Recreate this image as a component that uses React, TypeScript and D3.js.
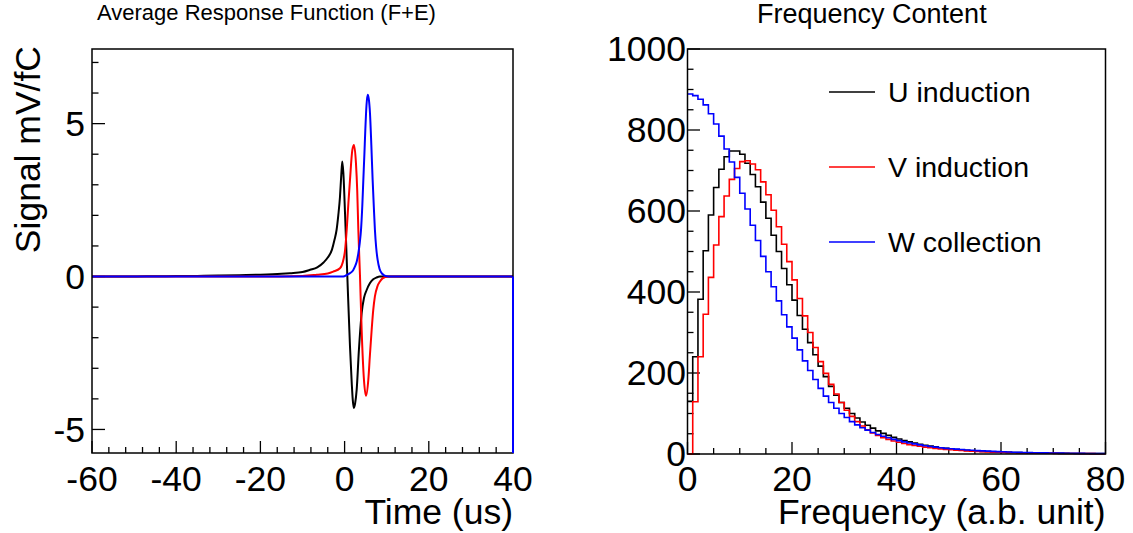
import React from 'react';
import * as d3 from 'd3';

// Left pad: average response (time in us, signal in mV/fC)
const uTime = [-60, -50, -45, -40, -35, -30, -25, -20, -15, -13, -10, -8.2, -6.5, -5, -4, -3, -2.4, -1.9, -1.5, -1.1, -0.8, -0.55, -0.3, 0.1, 0.65, 1.28, 1.7, 1.95, 2.2, 2.5, 2.87, 3.4, 4.05, 4.6, 5.24, 6.0, 6.8, 7.6, 8.4, 10, 40];
const uSignal = [0, 0, 0.01, 0.015, 0.02, 0.03, 0.045, 0.06, 0.09, 0.11, 0.15, 0.22, 0.3, 0.46, 0.62, 0.88, 1.2, 1.53, 2.0, 2.6, 3.3, 3.76, 3.4, 2.07, 0, -2.29, -3.5, -4.05, -4.3, -4.15, -3.7, -2.4, -1.2, -0.7, -0.44, -0.22, -0.09, -0.03, 0, 0, 0];

const vTime = [-60, -20, -10, -6.6, -4, -2.7, -1.1, -0.3, 0.1, 0.5, 0.9, 1.28, 1.84, 2.23, 2.7, 3.0, 3.26, 3.66, 4.05, 4.6, 5.08, 5.63, 6.0, 6.43, 6.8, 7.2, 7.8, 8.4, 9.0, 9.6, 10.5, 40];
const vSignal = [0, 0, 0.02, 0.06, 0.1, 0.16, 0.27, 0.54, 0.85, 1.53, 2.4, 3.16, 4.14, 4.3, 3.7, 2.8, 1.53, 0, -1.74, -3.38, -3.9, -3.38, -2.6, -1.74, -1.1, -0.65, -0.32, -0.16, -0.06, -0.02, 0, 0];

const wTime = [-60, -0.3, 0.5, 1.28, 2.0, 2.47, 2.9, 3.26, 3.6, 3.9, 4.2, 4.45, 4.7, 4.92, 5.2, 5.48, 5.75, 6.03, 6.35, 6.66, 6.95, 7.2, 7.5, 7.84, 8.3, 8.8, 9.4, 10, 11, 40];
const wSignal = [0, 0, 0.05, 0.11, 0.2, 0.33, 0.5, 0.76, 1.1, 1.53, 2.3, 3.16, 4.0, 4.79, 5.6, 5.94, 5.8, 5.34, 4.3, 3.16, 2.25, 1.53, 0.95, 0.55, 0.25, 0.11, 0.04, 0.01, 0, 0];
const wEndValue = -6;

// Right pad: frequency content, 80 bins from 0 to 80
const freqU = [130, 240, 382, 502, 590, 658, 703, 734, 748, 748, 740, 718, 690, 660, 622, 582, 540, 500, 458, 418, 380, 342, 308, 275, 245, 217, 191, 167, 145, 127, 113, 100, 89, 79, 71, 64, 57, 51, 46, 41, 37, 33, 30, 27, 24, 21.5, 19.5, 17.5, 15.5, 14, 12.5, 11.2, 10, 9, 8.1, 7.3, 6.6, 6, 5.4, 4.9, 4.4, 4, 3.6, 3.3, 3, 2.7, 2.5, 2.3, 2.1, 1.9, 1.8, 1.6, 1.5, 1.4, 1.3, 1.2, 1.1, 1.0, 1.0, 0.9];
const freqV = [0, 129, 240, 345, 436, 516, 586, 637, 678, 705, 722, 724, 716, 702, 672, 640, 602, 561, 518, 475, 430, 384, 341, 300, 263, 228, 199, 172, 148, 127, 108, 93, 80, 69, 60, 52, 46, 40, 36, 32, 29, 26, 23, 21, 19, 17, 15.5, 14, 12.5, 11.5, 10.5, 9.5, 8.6, 7.8, 7, 6.3, 5.7, 5.2, 4.7, 4.3, 3.9, 3.5, 3.2, 2.9, 2.6, 2.4, 2.2, 2, 1.8, 1.7, 1.5, 1.4, 1.3, 1.2, 1.1, 1.0, 0.9, 0.9, 0.8, 0.8];
const freqW = [889, 885, 876, 862, 840, 815, 785, 753, 721, 683, 644, 605, 565, 527, 488, 450, 413, 378, 344, 314, 286, 257, 230, 206, 184, 162, 143, 127, 113, 100, 90, 80, 72, 65, 59, 53, 48, 44, 40, 36, 33, 30, 27, 25, 22.5, 20.5, 18.5, 17, 15.5, 14, 13, 12, 11, 10, 9.2, 8.4, 7.7, 7, 6.4, 5.9, 5.4, 4.9, 4.5, 4.1, 3.8, 3.5, 3.2, 2.9, 2.7, 2.5, 2.3, 2.1, 1.9, 1.8, 1.6, 1.5, 1.4, 1.3, 1.2, 1.1];

const legendNames = ['U induction', 'V induction', 'W collection'];
const colors = ['#000000', '#ff0000', '#0000ff'];

const timeTicks = [-60, -40, -20, 0, 20, 40];
const signalTicks = [-5, 0, 5];
const freqTicks = [0, 20, 40, 60, 80];
const countTicks = [0, 200, 400, 600, 800, 1000];

const FONT = '"Liberation Sans", Arial, Helvetica, sans-serif';
const LABEL = 35.5;

const App = () => {
  // left frame
  const L = { x0: 92, x1: 513, y0: 49, y1: 453 };
  const xT = d3.scaleLinear().domain([-60, 40]).range([L.x0, L.x1]);
  const yS = d3.scaleLinear().domain([-5.77, 7.44]).range([L.y1, L.y0]);

  // right frame
  const R = { x0: 687.5, x1: 1105.5, y0: 49, y1: 454 };
  const xF = d3.scaleLinear().domain([0, 80]).range([R.x0, R.x1]);
  const yC = d3.scaleLinear().domain([0, 1000]).range([R.y1, R.y0]);

  const curve = d3.line<number[]>()
    .x(d => xT(d[0]))
    .y(d => yS(d[1]))
    .curve(d3.curveMonotoneX);

  const series = [
    d3.zip(uTime, uSignal),
    d3.zip(vTime, vSignal),
    d3.zip(wTime, wSignal),
  ];

  const hist = d3.line<number[]>()
    .x(d => xF(d[0]))
    .y(d => yC(d[1]))
    .curve(d3.curveStepAfter);

  const histPts = (vals: number[]) => {
    const pts = vals.map((v, i) => [i, v]);
    pts.push([vals.length, vals[vals.length - 1]]);
    return pts;
  };

  const timeMinor = d3.range(-60, 40.01, 4);
  const signalMinor = d3.range(-5, 7.01, 1);
  const freqMinor = d3.range(0, 80.01, 5);
  const countMinor = d3.range(0, 1000.01, 50);

  const wLast = wTime[wTime.length - 1];

  return (
    <svg width={1133} height={533} style={{ position: 'absolute', left: 0, top: 0, background: '#fff' }}
      fontFamily={FONT}>
      <rect width={1133} height={533} fill="#fff" />

      {/* titles */}
      <text x={97} y={20} fontSize={22}>Average Response Function (F+E)</text>
      <text x={757} y={23} fontSize={27}>Frequency Content</text>

      {/* ---------- left pad ---------- */}
      <g stroke="#000" strokeWidth={1.3}>
        {timeMinor.map(t => (
          <line key={'tm' + t} x1={xT(t)} x2={xT(t)} y1={L.y1}
            y2={L.y1 - (timeTicks.includes(t) ? 12 : 6)} />
        ))}
        {signalMinor.map(s => (
          <line key={'sm' + s} x1={L.x0} x2={L.x0 + (signalTicks.includes(s) ? 13 : 6.5)}
            y1={yS(s)} y2={yS(s)} />
        ))}
      </g>
      <g fill="none" strokeWidth={2}>
        {series.map((s, i) => (
          <path key={'c' + i} d={curve(s) || ''} stroke={colors[i]} />
        ))}
      </g>
      <rect x={L.x0} y={L.y0} width={L.x1 - L.x0} height={L.y1 - L.y0} fill="none" stroke="#000" strokeWidth={1.5} />
      {/* the collection graph's last point drops off the bottom of the frame */}
      <line x1={xT(wLast)} x2={xT(wLast)} y1={yS(0)} y2={Math.min(yS(wEndValue), L.y1)}
        stroke={colors[2]} strokeWidth={2} />

      <g fontSize={LABEL} textAnchor="middle">
        {timeTicks.map(t => (
          <text key={'tl' + t} x={xT(t)} y={491}>{t}</text>
        ))}
      </g>
      <g fontSize={LABEL} textAnchor="end">
        {signalTicks.map(s => (
          <text key={'sl' + s} x={85} y={yS(s)} dy="0.35em">{s}</text>
        ))}
      </g>
      <text x={L.x1} y={524} fontSize={LABEL} textAnchor="end">Time (us)</text>
      <text transform={`translate(40,${L.y0 - 3}) rotate(-90)`} fontSize={LABEL} textAnchor="end">Signal mV/fC</text>

      {/* ---------- right pad ---------- */}
      <g stroke="#000" strokeWidth={1.3}>
        {freqMinor.map(f => (
          <line key={'fm' + f} x1={xF(f)} x2={xF(f)} y1={R.y1}
            y2={R.y1 - (freqTicks.includes(f) ? 12 : 6)} />
        ))}
        {countMinor.map(c => (
          <line key={'cm' + c} x1={R.x0} x2={R.x0 + (countTicks.includes(c) ? 12.5 : 6)}
            y1={yC(c)} y2={yC(c)} />
        ))}
      </g>
      <g fill="none" strokeWidth={1.6}>
        {[freqU, freqV, freqW].map((vals, i) => (
          <path key={'h' + i} d={hist(histPts(vals)) || ''} stroke={colors[i]} />
        ))}
      </g>
      <rect x={R.x0} y={R.y0} width={R.x1 - R.x0} height={R.y1 - R.y0} fill="none" stroke="#000" strokeWidth={1.5} />

      <g fontSize={LABEL} textAnchor="middle">
        {freqTicks.map(f => (
          <text key={'fl' + f} x={xF(f)} y={491}>{f}</text>
        ))}
      </g>
      <g fontSize={LABEL} textAnchor="end">
        {countTicks.map(c => (
          <text key={'cl' + c} x={686} y={yC(c)} dy="0.35em">{c}</text>
        ))}
      </g>
      <text x={R.x1} y={524} fontSize={LABEL} textAnchor="end">Frequency (a.b. unit)</text>

      {/* legend */}
      {legendNames.map((name, i) => (
        <g key={name} transform={`translate(0,${92 + i * 75})`}>
          <line x1={829} x2={875} y1={0} y2={0} stroke={colors[i]} strokeWidth={1.6} />
          <text x={888} y={0} dy="0.35em" fontSize={28.5}>{name}</text>
        </g>
      ))}
    </svg>
  );
};

export default App;
